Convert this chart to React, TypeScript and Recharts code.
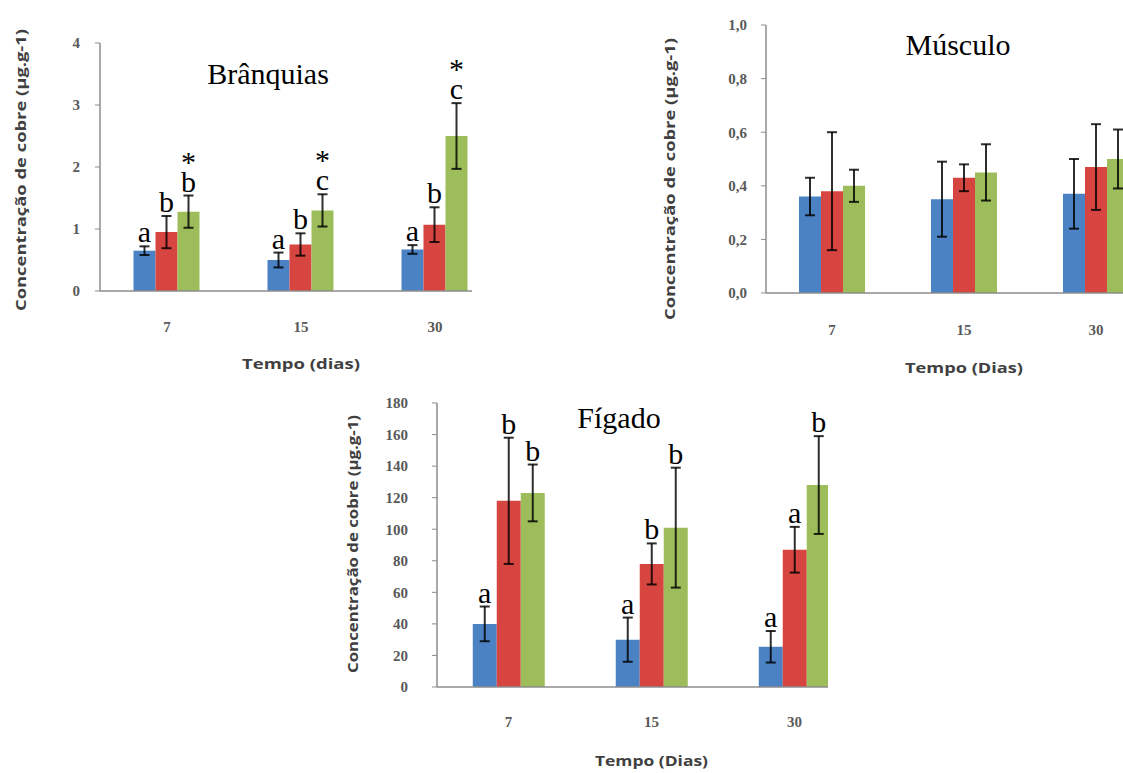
import React from 'react';
import { BarChart, Bar, XAxis, YAxis, ErrorBar, LabelList, Label } from 'recharts';

const dias = ['7', '15', '30'];

// Brânquias (µg.g-1)
const branqControle = [0.65, 0.5, 0.67];
const branqControleDp = [0.07, 0.12, 0.07];
const branqCobre1 = [0.95, 0.75, 1.07];
const branqCobre1Dp = [0.26, 0.18, 0.28];
const branqCobre2 = [1.28, 1.3, 2.5];
const branqCobre2Dp = [0.26, 0.26, 0.53];
const branqLetrasControle = ['a', 'a', 'a'];
const branqLetrasCobre1 = ['b', 'b', 'b'];
const branqLetrasCobre2 = ['b', 'c', 'c'];
const branqAsteriscoCobre2 = [true, true, true];
const branqTicks = [0, 1, 2, 3, 4];

// Músculo (µg.g-1)
const musControle = [0.36, 0.35, 0.37];
const musControleDp = [0.07, 0.14, 0.13];
const musCobre1 = [0.38, 0.43, 0.47];
const musCobre1Dp = [0.22, 0.05, 0.16];
const musCobre2 = [0.4, 0.45, 0.5];
const musCobre2Dp = [0.06, 0.105, 0.11];
const musTicks = [0, 0.2, 0.4, 0.6, 0.8, 1.0];

// Fígado (µg.g-1)
const figControle = [40, 30, 25.5];
const figControleDp = [11, 14, 10];
const figCobre1 = [118, 78, 87];
const figCobre1Dp = [40, 13, 14.5];
const figCobre2 = [123, 101, 128];
const figCobre2Dp = [18, 38, 31];
const figLetrasControle = ['a', 'a', 'a'];
const figLetrasCobre1 = ['b', 'b', 'a'];
const figLetrasCobre2 = ['b', 'b', 'b'];
const figTicks = [0, 20, 40, 60, 80, 100, 120, 140, 160, 180];

const AZUL = '#4B82C4';
const VERMELHO = '#D6453F';
const VERDE = '#9DBD5A';
const EIXO = '#8c8c8c';
const SANS = "'Open Sans', sans-serif";
const SERIF = "'Liberation Serif', 'Times New Roman', serif";

type Serie = {
  valores: number[];
  dp: number[];
  cor: string;
  letras?: string[];
  asterisco?: boolean[];
};

type PainelProps = {
  left: number;
  top: number;
  clipWidth: number;
  width: number;
  height: number;
  marginTop: number;
  marginRight: number;
  yWidth: number;
  plotHeight: number;
  domain: [number, number];
  ticks: number[];
  fmt: (v: number) => string;
  yTickMargin: number;
  xTickMargin: number;
  tituloX: string;
  tituloXdy: number;
  tituloXlen: number;
  tituloYx: number;
  tituloYdy: number;
  tituloYlen: number;
  series: Serie[];
};

// letra de significância acima da barra de erro (e asterisco, quando houver)
const rotulo = (serie: Serie) => (props: any) => {
  const vb = props.viewBox || props;
  const i = props.index;
  const txt = props.value;
  if (!txt || i === undefined) return null;
  const { x, y, width, height } = vb;
  const errPx = (height * serie.dp[i]) / serie.valores[i];
  const cx = x + width / 2;
  const base = y - errPx - 4;
  const comAsterisco = serie.asterisco && serie.asterisco[i];
  return (
    <text
      x={cx}
      y={comAsterisco ? base - 20 : base}
      textAnchor="middle"
      fontFamily={SERIF}
      fontSize={30}
      fill="#000"
    >
      {comAsterisco && <tspan x={cx}>*</tspan>}
      <tspan x={cx} dy={comAsterisco ? 20 : 0}>
        {txt}
      </tspan>
    </text>
  );
};

const tickStyle = { fill: '#595959', fontFamily: SERIF, fontWeight: 700, fontSize: 15 };

function Painel(p: PainelProps) {
  const dados = dias.map((dia, i) => {
    const row: Record<string, any> = { dia };
    p.series.forEach((s, k) => {
      row[`v${k}`] = s.valores[i];
      row[`e${k}`] = s.dp[i];
      row[`l${k}`] = s.letras ? s.letras[i] : '';
    });
    return row;
  });

  const marginBottom = 0;
  const xHeight = p.height - p.marginTop - p.plotHeight - marginBottom;

  return (
    <div
      style={{
        position: 'absolute',
        left: p.left,
        top: p.top,
        width: p.clipWidth,
        height: p.height,
        overflow: 'hidden',
      }}
    >
      <BarChart
        width={p.width}
        height={p.height}
        data={dados}
        margin={{ top: p.marginTop, right: p.marginRight, bottom: marginBottom, left: 0 }}
        barCategoryGap="25%"
        barGap={0}
      >
        <XAxis
          dataKey="dia"
          height={xHeight}
          axisLine={{ stroke: EIXO, strokeWidth: 1.5 }}
          tickLine={false}
          tickSize={0}
          tickMargin={p.xTickMargin}
          tick={tickStyle}
        >
          <Label
            content={({ viewBox }: any) => (
              <text
                x={viewBox.x + viewBox.width / 2}
                y={viewBox.y + p.tituloXdy}
                textAnchor="middle"
                dominantBaseline="central"
                fontFamily={SANS}
                fontWeight={700}
                fontSize={15}
                textLength={p.tituloXlen}
                lengthAdjust="spacingAndGlyphs"
                fill="#404040"
              >
                {p.tituloX}
              </text>
            )}
          />
        </XAxis>
        <YAxis
          width={p.yWidth}
          domain={p.domain}
          ticks={p.ticks}
          interval={0}
          tickFormatter={p.fmt}
          axisLine={{ stroke: EIXO, strokeWidth: 1.5 }}
          tickLine={{ stroke: EIXO }}
          tickSize={5}
          tickMargin={p.yTickMargin}
          tick={tickStyle}
        >
          <Label
            content={({ viewBox }: any) => {
              const cy = viewBox.y + viewBox.height / 2 + p.tituloYdy;
              return (
                <text
                  x={p.tituloYx}
                  y={cy}
                  transform={`rotate(-90 ${p.tituloYx} ${cy})`}
                  textAnchor="middle"
                  dominantBaseline="central"
                  fontFamily={SANS}
                  fontWeight={700}
                  fontSize={15}
                  textLength={p.tituloYlen}
                  lengthAdjust="spacingAndGlyphs"
                  fill="#404040"
                >
                  Concentração de cobre (µg.g-1)
                </text>
              );
            }}
          />
        </YAxis>
        {p.series.map((s, k) => (
          <Bar key={k} dataKey={`v${k}`} fill={s.cor} isAnimationActive={false}>
            <ErrorBar
              dataKey={`e${k}`}
              width={5}
              stroke="#000"
              strokeOpacity={0.82}
              strokeWidth={2}
              isAnimationActive={false}
            />
            {s.letras && <LabelList dataKey={`l${k}`} content={rotulo(s)} />}
          </Bar>
        ))}
      </BarChart>
    </div>
  );
}

export default function App() {
  return (
    <div
      style={{
        position: 'absolute',
        left: 0,
        top: 0,
        width: 1123,
        height: 773,
        overflow: 'hidden',
        background: '#fff',
      }}
    >
      <Painel
        left={0}
        top={0}
        clipWidth={472}
        width={520}
        height={400}
        marginTop={43}
        marginRight={18}
        yWidth={100}
        plotHeight={248}
        domain={[0, 4]}
        ticks={branqTicks}
        fmt={(v) => String(v)}
        yTickMargin={15}
        xTickMargin={30}
        tituloX="Tempo (dias)"
        tituloXdy={72}
        tituloXlen={118}
        tituloYx={20}
        tituloYdy={3}
        tituloYlen={282}
        series={[
          { valores: branqControle, dp: branqControleDp, cor: AZUL, letras: branqLetrasControle },
          { valores: branqCobre1, dp: branqCobre1Dp, cor: VERMELHO, letras: branqLetrasCobre1 },
          {
            valores: branqCobre2,
            dp: branqCobre2Dp,
            cor: VERDE,
            letras: branqLetrasCobre2,
            asterisco: branqAsteriscoCobre2,
          },
        ]}
      />
      <Painel
        left={660}
        top={0}
        clipWidth={463}
        width={520}
        height={400}
        marginTop={25}
        marginRight={18}
        yWidth={106}
        plotHeight={268}
        domain={[0, 1]}
        ticks={musTicks}
        fmt={(v) => v.toFixed(1).replace('.', ',')}
        yTickMargin={14}
        xTickMargin={31}
        tituloX="Tempo (Dias)"
        tituloXdy={74}
        tituloXlen={118}
        tituloYx={9}
        tituloYdy={20}
        tituloYlen={282}
        series={[
          { valores: musControle, dp: musControleDp, cor: AZUL },
          { valores: musCobre1, dp: musCobre1Dp, cor: VERMELHO },
          { valores: musCobre2, dp: musCobre2Dp, cor: VERDE },
        ]}
      />
      <Painel
        left={330}
        top={380}
        clipWidth={498}
        width={560}
        height={393}
        marginTop={23}
        marginRight={24}
        yWidth={107}
        plotHeight={284}
        domain={[0, 180]}
        ticks={figTicks}
        fmt={(v) => String(v)}
        yTickMargin={24}
        xTickMargin={29}
        tituloX="Tempo (Dias)"
        tituloXdy={73}
        tituloXlen={113}
        tituloYx={22}
        tituloYdy={-1}
        tituloYlen={258}
        series={[
          { valores: figControle, dp: figControleDp, cor: AZUL, letras: figLetrasControle },
          { valores: figCobre1, dp: figCobre1Dp, cor: VERMELHO, letras: figLetrasCobre1 },
          { valores: figCobre2, dp: figCobre2Dp, cor: VERDE, letras: figLetrasCobre2 },
        ]}
      />
      <svg
        width={1123}
        height={773}
        style={{ position: 'absolute', left: 0, top: 0, pointerEvents: 'none' }}
      >
        <text x={268} y={84} textAnchor="middle" fontFamily={SERIF} fontSize={30} fill="#000">
          Brânquias
        </text>
        <text x={958} y={55} textAnchor="middle" fontFamily={SERIF} fontSize={30} fill="#000">
          Músculo
        </text>
        <text x={619} y={428} textAnchor="middle" fontFamily={SERIF} fontSize={30} fill="#000">
          Fígado
        </text>
      </svg>
    </div>
  );
}
